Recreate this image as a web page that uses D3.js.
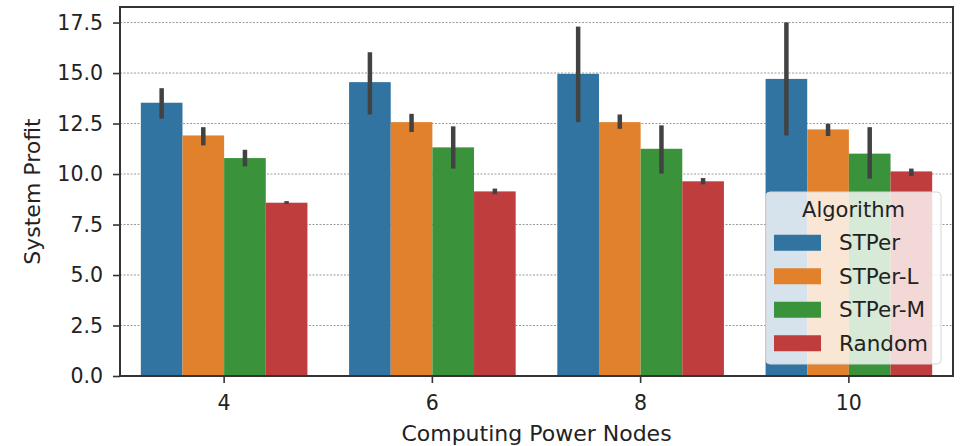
<!DOCTYPE html>
<html>
<head>
<meta charset="utf-8">
<script src="https://cdn.jsdelivr.net/npm/d3@7"></script>
<style>
html,body{margin:0;padding:0;background:#fff;}
svg{display:block;font-family:"DejaVu Sans",sans-serif;}
</style>
</head>
<body>
<svg id="chart" width="962" height="446"></svg>
<script>
const categories = ["4", "6", "8", "10"];
const algorithms = ["STPer", "STPer-L", "STPer-M", "Random"];
const meanSTPer  = [13.53, 14.55, 14.96, 14.71];
const meanSTPerL = [11.91, 12.57, 12.57, 12.21];
const meanSTPerM = [10.79, 11.32, 11.25, 11.01];
const meanRandom = [8.58, 9.14, 9.64, 10.13];
const lowSTPer  = [12.74, 12.95, 12.57, 11.91];
const lowSTPerL = [11.42, 12.08, 12.24, 11.88];
const lowSTPerM = [10.38, 10.27, 10.02, 9.77];
const lowRandom = [8.52, 9.00, 9.49, 9.90];
const highSTPer  = [14.25, 16.03, 17.30, 17.51];
const highSTPerL = [12.32, 12.98, 12.95, 12.49];
const highSTPerM = [11.20, 12.36, 12.41, 12.32];
const highRandom = [8.66, 9.28, 9.80, 10.27];
const yTicks = [0, 2.5, 5, 7.5, 10, 12.5, 15, 17.5];
const xLabel = "Computing Power Nodes";
const yLabel = "System Profit";
const legendTitle = "Algorithm";

const colors = ["#3274a1", "#e1812c", "#3a923a", "#c03d3e"];
const means = [meanSTPer, meanSTPerL, meanSTPerM, meanRandom];
const lows = [lowSTPer, lowSTPerL, lowSTPerM, lowRandom];
const highs = [highSTPer, highSTPerL, highSTPerM, highRandom];

const rows = [];
categories.forEach((c, ci) => {
  algorithms.forEach((a, ai) => {
    rows.push({cat: c, alg: a, ai: ai, v: means[ai][ci], lo: lows[ai][ci], hi: highs[ai][ci]});
  });
});

const svg = d3.select("#chart");
const L = 120, R = 953, T = 7, B = 376;

const x = d3.scaleBand().domain(categories).range([L, R]).padding(0);
const bw = x.bandwidth();
const xi = d3.scaleBand().domain(algorithms).range([0.1 * bw, 0.9 * bw]).padding(0);
const y = d3.scaleLinear().domain([0, 18.27]).range([B, T]);

// grid
svg.append("g").selectAll("line").data(yTicks).join("line")
  .attr("x1", L).attr("x2", R)
  .attr("y1", d => y(d)).attr("y2", d => y(d))
  .attr("stroke", "#9a9a9a").attr("stroke-width", 1)
  .attr("stroke-dasharray", "2,1.5");

// bars
svg.append("g").selectAll("rect").data(rows).join("rect")
  .attr("x", d => x(d.cat) + xi(d.alg))
  .attr("width", xi.bandwidth())
  .attr("y", d => y(d.v))
  .attr("height", d => B - y(d.v))
  .attr("fill", d => colors[d.ai]);

// error bars
svg.append("g").selectAll("line").data(rows).join("line")
  .attr("x1", d => x(d.cat) + xi(d.alg) + xi.bandwidth() / 2)
  .attr("x2", d => x(d.cat) + xi(d.alg) + xi.bandwidth() / 2)
  .attr("y1", d => y(d.lo)).attr("y2", d => y(d.hi))
  .attr("stroke", "#424242").attr("stroke-width", 4.5);

// axes
const yAxis = svg.append("g").attr("transform", `translate(${L},0)`)
  .call(d3.axisLeft(y).tickValues(yTicks).tickFormat(d3.format(".1f")).tickSizeOuter(0).tickSize(7).tickPadding(10));
const xAxis = svg.append("g").attr("transform", `translate(0,${B})`)
  .call(d3.axisBottom(x).tickSizeOuter(0).tickSize(7).tickPadding(10));
[yAxis, xAxis].forEach(g => {
  g.select(".domain").remove();
  g.selectAll(".tick line").attr("stroke", "#333").attr("stroke-width", 1.6);
  g.selectAll(".tick text").attr("fill", "#222").style("font-size", "20.5px").style("font-family", "DejaVu Sans");
});
xAxis.selectAll(".tick text").attr("dy", "0.71em").attr("y", 19);

// frame
svg.append("rect").attr("x", L).attr("y", T).attr("width", R - L).attr("height", B - T)
  .attr("fill", "none").attr("stroke", "#333").attr("stroke-width", 2);

// labels
svg.append("text").attr("x", (L + R) / 2).attr("y", 441).attr("text-anchor", "middle")
  .style("font-size", "22px").attr("fill", "#222").text(xLabel);
svg.append("text").attr("transform", `translate(40,${(T + B) / 2}) rotate(-90)`).attr("text-anchor", "middle")
  .style("font-size", "22px").attr("fill", "#222").text(yLabel);

// legend
const lg = svg.append("g");
lg.append("rect").attr("x", 766).attr("y", 192).attr("width", 175).attr("height", 172)
  .attr("rx", 4).attr("fill", "rgba(255,255,255,0.8)").attr("stroke", "#d6d6d6").attr("stroke-width", 1);
lg.append("text").attr("x", 853.5).attr("y", 217).attr("text-anchor", "middle")
  .style("font-size", "21px").attr("fill", "#222").text(legendTitle);
const rowY = d3.scaleBand().domain(algorithms).range([226, 360]);
const items = lg.selectAll("g.item").data(algorithms).join("g").attr("class", "item")
  .attr("transform", d => `translate(0,${rowY(d) + rowY.bandwidth() / 2})`);
items.append("rect").attr("x", 774).attr("y", -8).attr("width", 47).attr("height", 16)
  .attr("fill", (d, i) => colors[i]);
items.append("text").attr("x", 839).attr("y", 7.5).style("font-size", "21.5px").attr("fill", "#222").text(d => d);
</script>
</body>
</html>
